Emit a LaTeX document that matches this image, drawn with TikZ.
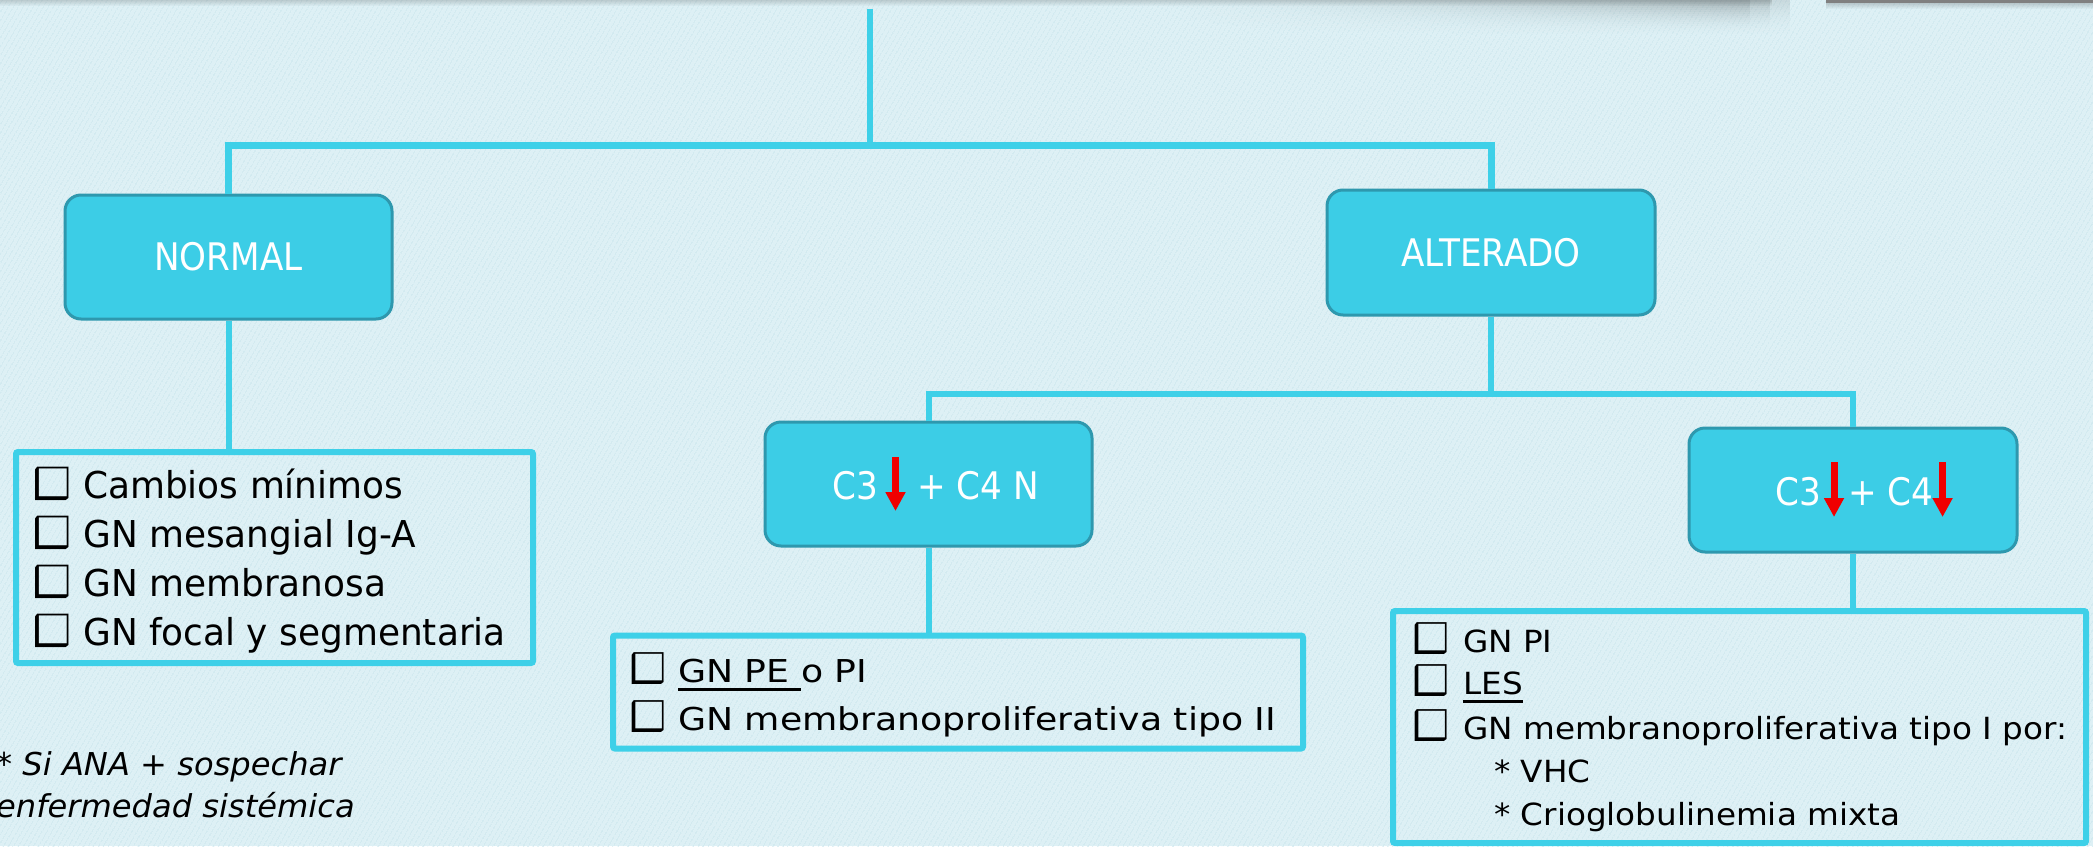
\documentclass[tikz,border=0pt]{standalone}
\usepackage{fontspec}
\usepackage{graphicx}
\setmainfont[FakeStretch=0.9]{DejaVu Sans}
\newfontfamily\cbfont{DejaVu Sans}
\newfontfamily\leftfont[FakeStretch=0.97]{DejaVu Sans}
\newfontfamily\midfont[FakeStretch=1.15]{DejaVu Sans}
\newfontfamily\rightfont[FakeStretch=1.07]{DejaVu Sans}
\newfontfamily\footfont[FakeStretch=1.02]{DejaVu Sans}
\usetikzlibrary{patterns.meta,arrows.meta,calc}
\definecolor{bgcol}{RGB}{221,240,245}
\definecolor{stripecol}{RGB}{205,231,238}
\definecolor{boxfill}{RGB}{60,205,230}
\definecolor{boxborder}{RGB}{46,152,174}
\definecolor{linecol}{RGB}{62,208,232}
\definecolor{arrowred}{RGB}{240,0,0}
\definecolor{shadowcol}{RGB}{100,108,110}
\newcommand\myul[2]{\setbox0=\hbox{#2}\rlap{\rule[#1]{\wd0}{2.6pt}}\box0}
\newcommand\cb[2]{\makebox[#1][l]{\fontsize{#2}{#2}\cbfont\reflectbox{❑}}}
\begin{document}
\begin{tikzpicture}[x=1pt,y=-1pt,
  rbox/.style={draw=boxborder, fill=boxfill, line width=3pt, rounded corners=16pt,
    text=white, font=\fontsize{38}{46}\selectfont, inner sep=0pt},
  lbox/.style={draw=linecol, line width=6pt, rounded corners=2pt, inner sep=0pt},
  conn/.style={draw=linecol, line width=6pt},
  leftitem/.style={font=\fontsize{37}{44}\leftfont, anchor=base west, inner sep=0pt},
  miditem/.style={font=\fontsize{31.5}{38}\midfont, anchor=base west, inner sep=0pt},
  rightitem/.style={font=\fontsize{30.5}{37}\rightfont, anchor=base west, inner sep=0pt},
  footitem/.style={font=\fontsize{31.5}{38}\footfont\itshape, anchor=base west, inner sep=0pt},
  lab/.style={text=white, font=\fontsize{38}{46}\selectfont, inner sep=0pt},
  downarr/.style={draw=arrowred, line width=7pt, -{Triangle[width=19pt,length=19pt]}},
]
\useasboundingbox (0,0) rectangle (2093,846);
% background
\fill[bgcol] (0,0) rectangle (2093,846);
\fill[pattern={Lines[angle=60,distance=4pt,line width=1.2pt]}, pattern color=stripecol] (0,0) rectangle (2093,846);
% top shadows
\foreach \r in {0,...,5}{
  \pgfmathsetmacro\op{0.28*(1-\r/6)}
  \fill[shadowcol, opacity=\op] (0,{\r}) rectangle (1772,{\r+1});
}
\foreach \c in {0,...,31}{
  \foreach \r in {0,...,17}{
    \pgfmathsetmacro\op{(\c<30 ? 0.5*(\c/30)^1.5 : 0.5*(1-(\c-29)/3))*(1-\r/18)^2}
    \fill[shadowcol, opacity=\op] ({1150+20*\c},{2*\r}) rectangle ({1170+20*\c},{2*\r+2});
  }
}
\fill[black!50] (1826,0) rectangle (2093,3);
\foreach \r in {0,...,5}{
  \pgfmathsetmacro\op{0.3*(1-\r/6)}
  \fill[shadowcol, opacity=\op] (1826,{3+\r}) rectangle (2093,{4+\r});
}

% boxes
\node[rbox, minimum width=327, minimum height=124] (normal) at (228.5,257) {NORMAL};
\node[rbox, minimum width=328, minimum height=125] (alterado) at (1491,252.5) {ALTERADO};
\node[rbox, minimum width=327, minimum height=124] (c3n) at (928.5,484) {};
\node[rbox, minimum width=328, minimum height=124] (c3c4) at (1853,490) {};

\node[lbox, minimum width=517, minimum height=211] (l1) at (274.5,557.5) {};
\node[lbox, minimum width=690, minimum height=113] (l2) at (958,692) {};
\node[lbox, minimum width=693, minimum height=232] (l3) at (1739.5,727) {};

% connectors
\coordinate (top) at (870,9);
\coordinate (j1) at (870,145);
\coordinate (j2) at (1491,394);
\draw[conn] (top) -- (j1);
\draw[conn, line width=7pt] (normal.north) |- (j1) -| (alterado.north);
\draw[conn] (alterado.south) -- (j2);
\draw[conn] (c3n.north) |- (j2) -| (c3c4.north);
\draw[conn] (normal.south) -- (normal.south |- l1.north);
\draw[conn] (c3n.south) -- (c3n.south |- l2.north);
\draw[conn] (c3c4.south) -- (c3c4.south |- l3.north);

% labels with arrows
\node[lab, anchor=base east] (c3a) at (878,499) {C3};
\node[lab, anchor=base west] (c3b) at (917,499) {+ C4 N};
\draw[downarr] ($(c3a.base east)+(17.5,-42)$) -- ($(c3a.base east)+(17.5,12)$);

\node[lab, anchor=base east] (c4a) at (1821,505) {C3};
\node[lab, anchor=base west] (c4b) at (1848,505) {+ C4};
\draw[downarr] ($(c4a.base east)+(13,-43)$) -- ($(c4a.base east)+(13,12)$);
\draw[downarr] ($(c4b.base east)+(9,-43)$) -- ($(c4b.base east)+(9,12)$);

% left list
\node[leftitem] (a1) at (33,498) {\cb{50pt}{43}Cambios mínimos};
\node[leftitem] (a2) at (33,547) {\cb{50pt}{43}GN mesangial Ig-A};
\node[leftitem] (a3) at (33,596) {\cb{50pt}{43}GN membranosa};
\node[leftitem] (a4) at (33,645) {\cb{50pt}{43}GN focal y segmentaria};

% middle list
\node[miditem] (b1) at (630,682) {\cb{48pt}{41}\myul{-8.5pt}{GN PE\ }o PI};
\node[miditem] (b2) at (630,730) {\cb{48pt}{41}GN membranoproliferativa tipo II};

% right list
\node[rightitem] (d1) at (1413,652) {\cb{50pt}{41}GN PI};
\node[rightitem] (d2) at (1413,694) {\cb{50pt}{41}\myul{-9pt}{LES}};
\node[rightitem] (d3) at (1413,739) {\cb{50pt}{41}GN membranoproliferativa tipo I por:};
\node[rightitem] (d4) at (1494,782) {* VHC};
\node[rightitem] (d5) at (1494,825) {* Crioglobulinemia mixta};

% footnote
\node[footitem] (f1) at (-4,775) {* Si ANA + sospechar};
\node[footitem] (f2) at (-4,817) {enfermedad sistémica};
\end{tikzpicture}
\end{document}
